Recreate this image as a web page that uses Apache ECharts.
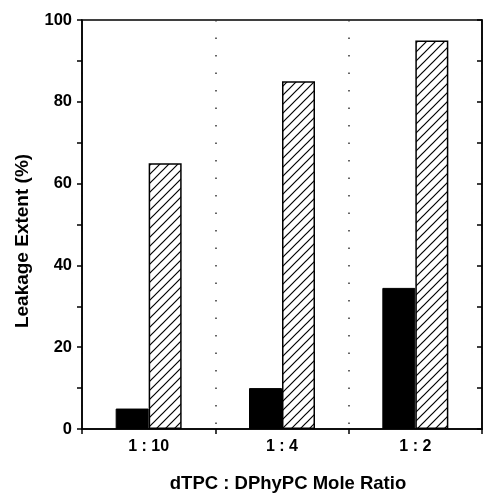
<!DOCTYPE html>
<html>
<head>
<meta charset="utf-8">
<script src="https://cdn.jsdelivr.net/npm/echarts@6/dist/echarts.min.js"></script>
<style>html,body{margin:0;padding:0;background:#fff}#c{width:487px;height:494px}</style>
</head>
<body>
<div id="c"></div>
<script>
const categories = ['1 : 10', '1 : 4', '1 : 2'];
const solidValues = [5, 10, 34.5];
const hatchedValues = [65, 85, 95];
const yTicks = [0, 20, 40, 60, 80, 100];

function hatch() {
  const s = 9;
  const cv = document.createElement('canvas');
  cv.width = s; cv.height = s;
  const ctx = cv.getContext('2d');
  ctx.fillStyle = '#fff';
  ctx.fillRect(0, 0, s, s);
  ctx.strokeStyle = '#000';
  ctx.lineWidth = 1.2;
  ctx.beginPath();
  ctx.moveTo(-1, s + 1); ctx.lineTo(s + 1, -1);
  ctx.moveTo(-1, 1); ctx.lineTo(1, -1);
  ctx.moveTo(s - 1, s + 1); ctx.lineTo(s + 1, s - 1);
  ctx.stroke();
  return cv;
}

const font = 'Liberation Sans, Arial, Helvetica, sans-serif';
const chart = echarts.init(document.getElementById('c'), null, {renderer: 'canvas'});
chart.setOption({
  animation: false,
  backgroundColor: '#fff',
  grid: {left: 82, right: 5, top: 20, bottom: 65, outerBoundsMode: 'none', containLabel: false,
    show: true, borderColor: '#000', borderWidth: 1.5, backgroundColor: 'transparent'},
  xAxis: {
    type: 'category',
    data: categories,
    boundaryGap: true,
    name: 'dTPC : DPhyPC Mole Ratio',
    nameLocation: 'middle',
    nameGap: 45,
    nameTextStyle: {fontFamily: font, fontWeight: 'bold', fontSize: 18.5, color: '#000', padding: [0, 0, 0, 12]},
    axisLine: {lineStyle: {color: '#000', width: 1.5}},
    axisTick: {show: true, length: 5, inside: false, lineStyle: {color: '#000', width: 1.5}},
    axisLabel: {fontFamily: font, fontWeight: 'bold', fontSize: 16, color: '#000', margin: 10},
    splitLine: {show: true, lineStyle: {color: '#333', width: 1.5, type: [1.5, 16]}}
  },
  yAxis: [{
    type: 'value',
    min: 0, max: 100, interval: 20,
    name: 'Leakage Extent (%)',
    nameLocation: 'middle',
    nameGap: 50,
    nameTextStyle: {fontFamily: font, fontWeight: 'bold', fontSize: 19, color: '#000', padding: [0, 33, 0, 0]},
    axisLine: {show: true, lineStyle: {color: '#000', width: 1.5}},
    axisTick: {show: true, length: 5, lineStyle: {color: '#000', width: 1.5}},
    minorTick: {show: true, splitNumber: 2, length: 5, lineStyle: {color: '#000', width: 1.5}},
    axisLabel: {fontFamily: font, fontWeight: 'bold', fontSize: 16.5, color: '#000', margin: 10,
      formatter: v => yTicks.includes(v) ? String(v) : ''},
    splitLine: {show: false}
  }, {
    type: 'value',
    position: 'right',
    min: 0, max: 100, interval: 10,
    axisLine: {show: true, lineStyle: {color: '#000', width: 1.5}},
    axisTick: {show: true, inside: true, length: 5, lineStyle: {color: '#000', width: 1.5}},
    axisLabel: {show: false},
    splitLine: {show: false}
  }],
  series: [{
    type: 'bar',
    data: solidValues,
    barWidth: 33,
    barGap: '0%',
    itemStyle: {color: '#000', borderColor: '#000', borderWidth: 1}
  }, {
    type: 'bar',
    data: hatchedValues,
    barWidth: 33,
    barGap: '0%',
    itemStyle: {color: {image: hatch(), repeat: 'repeat'}, borderColor: '#000', borderWidth: 1.5}
  }]
});
</script>
</body>
</html>
